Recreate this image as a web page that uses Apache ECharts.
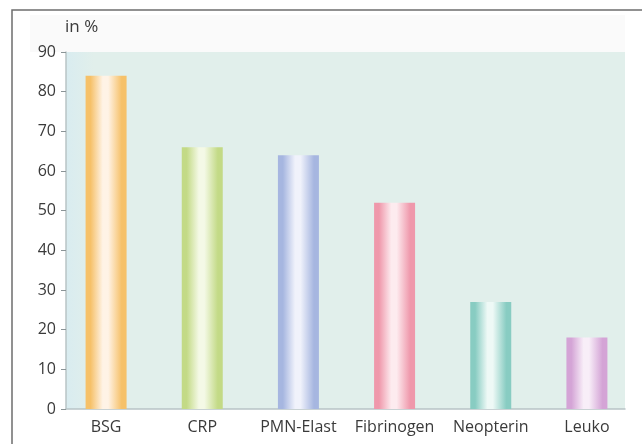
<!DOCTYPE html>
<html><head><meta charset="utf-8">
<script src="https://cdn.jsdelivr.net/npm/echarts@6/dist/echarts.min.js"></script>
<style>html,body{margin:0;padding:0;background:#fff}#c{width:642px;height:444px}</style>
</head><body><div id="c"></div>
<script>
const categories = ['BSG', 'CRP', 'PMN-Elast', 'Fibrinogen', 'Neopterin', 'Leuko'];
const values = [84, 66, 64, 52, 27, 18];
const yTicks = [0, 10, 20, 30, 40, 50, 60, 70, 80, 90];
const edgeColors = ['#f6c169', '#c3da86', '#a6b6e0', '#ef98ab', '#88ccc2', '#d4a4d6'];
const midColors = ['#fff3e6', '#f4f9e6', '#f0f2fb', '#fdebef', '#eef9f6', '#f8eef8'];

const FONT = 'Open Sans';
function grad(c, m) {
  return new echarts.graphic.LinearGradient(0, 0, 1, 0, [
    {offset: 0, color: c}, {offset: 0.12, color: c},
    {offset: 0.42, color: m}, {offset: 0.55, color: m},
    {offset: 0.88, color: c}, {offset: 1, color: c}
  ]);
}
const chart = echarts.init(document.getElementById('c'), null, {renderer: 'canvas'});
chart.setOption({
  animation: false,
  graphic: [
    {type: 'rect', z: -10, shape: {x: 30, y: 15, width: 595, height: 37}, style: {fill: '#fafafa'}},
    {type: 'rect', z: 100, shape: {x: 12, y: 10, width: 700, height: 500}, style: {fill: 'none', stroke: '#6e6e6e', lineWidth: 1.5}},
    {type: 'text', left: 65, top: 19, style: {text: 'in %', font: '17px "Open Sans"', fill: '#3a3a3a'}}
  ],
  grid: [
    {left: 66, right: 17, top: 52, bottom: 35, show: true, borderWidth: 0,
     backgroundColor: new echarts.graphic.LinearGradient(0, 0, 1, 0, [
       {offset: 0, color: '#d9ecf0'}, {offset: 0.05, color: '#e1efeb'}, {offset: 1, color: '#e1efeb'}])},
    {left: 58, right: 7, top: 52, bottom: 35}
  ],
  xAxis: [
    {gridIndex: 0, type: 'value', min: 0, max: 1, show: true,
     axisLine: {show: true, lineStyle: {color: '#b8c4c6', width: 1.5}},
     axisTick: {show: false}, axisLabel: {show: false}, splitLine: {show: false}},
    {gridIndex: 1, type: 'category', data: categories,
     axisLine: {show: false}, axisTick: {show: false},
     axisLabel: {color: '#3a3a3a', fontFamily: FONT, fontSize: 16, margin: 10, interval: 0, hideOverlap: false}}
  ],
  yAxis: [
    {gridIndex: 0, type: 'value', min: 0, max: 90, interval: 10,
     axisLine: {show: true, lineStyle: {color: '#b8c4c6', width: 1.5}},
     axisTick: {show: true, length: 5, lineStyle: {color: '#8a9496'}},
     axisLabel: {color: '#3a3a3a', fontFamily: FONT, fontSize: 16, margin: 10,
       formatter: v => yTicks.includes(v) ? String(v) : ''},
     splitLine: {show: false}},
    {gridIndex: 1, type: 'value', min: 0, max: 90, show: false}
  ],
  series: [{
    type: 'bar', xAxisIndex: 1, yAxisIndex: 1, barWidth: 41,
    data: values.map((v, i) => ({value: v, itemStyle: {color: grad(edgeColors[i], midColors[i])}}))
  }]
});
</script></body></html>
